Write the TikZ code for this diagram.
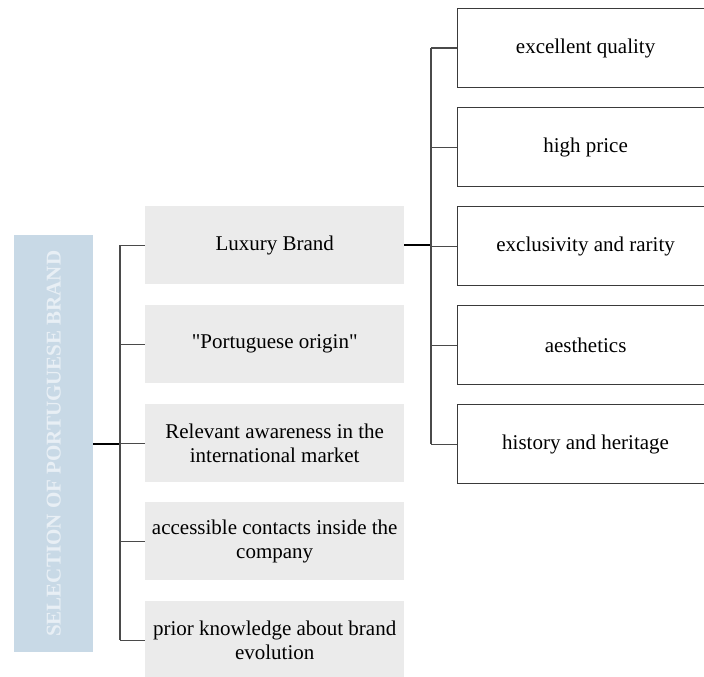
\documentclass[tikz,border=0pt]{standalone}
\usepackage{fontspec}
\setmainfont{Liberation Serif}[Ligatures=TeXOff]
\begin{document}
\begin{tikzpicture}[x=1pt,y=-1pt,
  lbl/.style={font=\rmfamily\fontsize{21}{24}\selectfont, align=center, text=black},
  crit/.style={lbl, fill=critgray, minimum width=259pt, minimum height=78pt, inner sep=0pt, anchor=north west},
  attr/.style={lbl, draw=boxline, line width=1.2pt, minimum width=256pt, minimum height=79pt, inner sep=0pt, anchor=north west},
  link/.style={draw=linegray, line width=1.2pt},
  trunk/.style={draw=black, line width=2pt}]
\definecolor{critgray}{HTML}{EBEBEB}
\definecolor{barblue}{HTML}{C8D9E6}
\definecolor{bartext}{HTML}{E8EFF5}
\definecolor{linegray}{HTML}{4A4A4A}
\definecolor{boxline}{HTML}{3A3A3A}
\useasboundingbox (0,0) rectangle (704,677);
\begin{scope}
\clip (0,0) rectangle (704,677);
% vertical title bar
\node[fill=barblue, minimum width=79pt, minimum height=417pt, inner sep=0pt, anchor=north west] (title) at (14,235) {};
\node[rotate=90, font=\rmfamily\fontsize{21}{24}\selectfont\bfseries, text=bartext] (titletext) at (title.center) {SELECTION OF PORTUGUESE BRAND};
% selection criteria
\node[crit] (lux) at (145,206) {Luxury Brand};
\node[crit] (orig) at (145,305) {"Portuguese origin"};
\node[crit] (aware) at (145,404) {Relevant awareness in the\\international market};
\node[crit] (cont) at (145,502) {accessible contacts inside the\\company};
\node[crit] (prior) at (145,601) {prior knowledge about brand\\evolution};
% luxury attributes
\node[attr] (qual) at (457,8) {excellent quality};
\node[attr] (price) at (457,107) {high price};
\node[attr] (excl) at (457,206) {exclusivity and rarity};
\node[attr] (aest) at (457,305) {aesthetics};
\node[attr] (hist) at (457,404) {history and heritage};
% left tree
\coordinate (lj) at (120,0);
\draw[trunk] (title.east) -- (title.east -| lj);
\draw[link] (lux.west -| lj) -- (prior.west -| lj);
\foreach \n in {lux,orig,aware,cont,prior}
  \draw[link] (\n.west -| lj) -- (\n.west);
% right tree
\coordinate (rj) at (431,0);
\draw[trunk] (lux.east) -- (lux.east -| rj);
\draw[link] (qual.west -| rj) -- (hist.west -| rj);
\foreach \n in {qual,price,excl,aest,hist}
  \draw[link] (\n.west -| rj) -- (\n.west);
\end{scope}
\end{tikzpicture}
\end{document}
